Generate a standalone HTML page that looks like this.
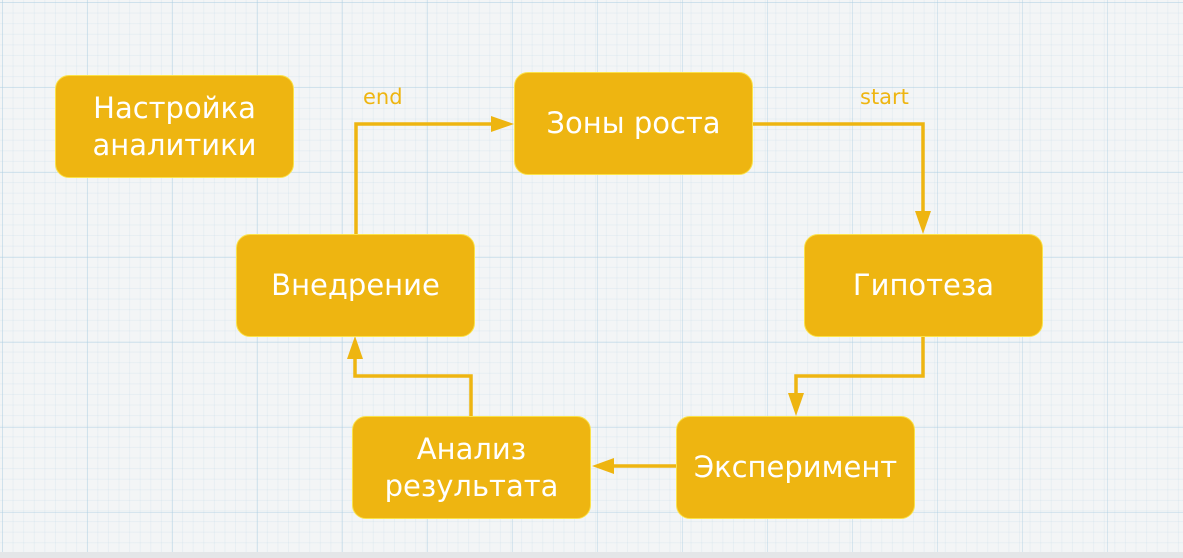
<!DOCTYPE html>
<html><head><meta charset="utf-8"><style>
body{margin:0;width:1183px;height:558px;overflow:hidden;font-family:"Liberation Sans","DejaVu Sans",sans-serif;}
.bg{position:absolute;left:0;top:0;width:1183px;height:552px;background-color:#f3f5f6;
background-image:
linear-gradient(to right,rgba(170,205,225,.4) 1px,transparent 1px),
linear-gradient(to bottom,rgba(170,205,225,.4) 1px,transparent 1px),
linear-gradient(to right,rgba(190,215,230,.22) 1px,transparent 1px),
linear-gradient(to bottom,rgba(190,215,230,.22) 1px,transparent 1px);
background-size:85px 85px,85px 85px,10.6px 10.6px,10.6px 10.6px;background-position:2px 2px;}
.strip{position:absolute;left:0;top:552px;width:1183px;height:6px;background:#e4e6e8;}
.b{position:absolute;width:237px;height:101px;background:#eeb511;border:1px solid #fbe24a;border-radius:14px;color:#fff;font-family:"DejaVu Sans",sans-serif;font-size:29px;display:flex;align-items:center;justify-content:center;text-align:center;line-height:37px;}
.l{position:absolute;color:#eeb511;font-family:"DejaVu Sans",sans-serif;font-size:21px;}
</style></head><body>
<div class="bg"></div><div class="strip"></div>
<svg width="1183" height="558" style="position:absolute;left:0;top:0">
<g stroke="#eeb511" stroke-width="3.5" fill="none">
<polyline points="753,124 923,124 923,216"/>
<polyline points="923,336 923,376 796,376 796,398"/>
<polyline points="676,466 610,466"/>
<polyline points="471,416 471,376 355,376 355,354"/>
<polyline points="356,234 356,124 496,124"/>
</g>
<g fill="#eeb511">
<polygon points="915,211 931,211 923,234"/>
<polygon points="788,393 804,393 796,416"/>
<polygon points="614,458 614,474 592,466"/>
<polygon points="347,359 363,359 355,336"/>
<polygon points="491,116 491,132 514,124"/>
</g></svg>
<div class="b" style="left:55px;top:75px">Настройка<br>аналитики</div>
<div class="b" style="left:514px;top:72px">Зоны роста</div>
<div class="b" style="left:804px;top:234px">Гипотеза</div>
<div class="b" style="left:236px;top:234px">Внедрение</div>
<div class="b" style="left:676px;top:416px">Эксперимент</div>
<div class="b" style="left:352px;top:416px">Анализ<br>результата</div>
<div class="l" style="left:363px;top:85px">end</div>
<div class="l" style="left:860px;top:85px">start</div>
</body></html>
